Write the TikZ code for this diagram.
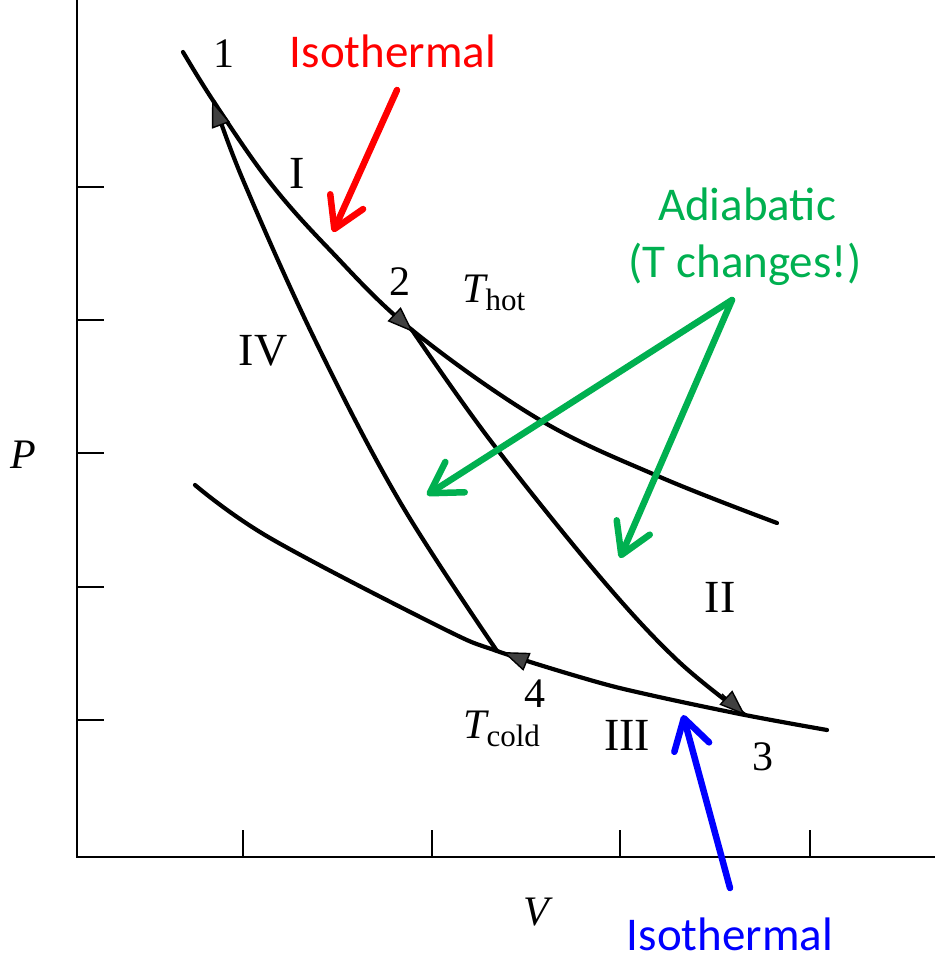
\documentclass[tikz,border=0pt]{standalone}
\usepackage{fontspec}
\setmainfont{Liberation Serif}
\newfontfamily\calibri{Carlito}
\usetikzlibrary{arrows.meta}
\definecolor{annred}{RGB}{255,0,0}
\definecolor{anngreen}{RGB}{0,176,80}
\definecolor{annblue}{RGB}{0,0,255}
\begin{document}
\begin{tikzpicture}[x=1pt,y=-1pt,
  curve/.style={line width=4.2pt, line cap=round},
  axis/.style={line width=2.8pt},
  tickmark/.style={line width=2.6pt},
  cyc/.style={line width=1.4pt, -{Triangle[length=26pt,width=19pt,fill=black!75]}},
  lbl/.style={font=\fontsize{42}{42}\selectfont, anchor=base, inner sep=0pt},
  roman/.style={font=\fontsize{46}{46}\selectfont, anchor=base, inner sep=0pt},
  note/.style={font=\calibri\fontsize{47}{47}\selectfont, anchor=base, inner sep=0pt},
  pointer/.style={line width=6.5pt, line cap=round, line join=round, -{Straight Barb[length=30pt,width=36pt,round]}}
]
\useasboundingbox (0,0) rectangle (935,961);
% axes
\coordinate (origin) at (77,857);
\coordinate (ytop) at (77,0);
\coordinate (xend) at (935,857);
\draw[axis] (ytop) -- (origin) -- (xend);
\foreach \y in {187,320,453,587,720} \draw[tickmark] (77,\y) -- (104,\y);
\foreach \x in {243,432,620,810} \draw[tickmark] (\x,857) -- (\x,830);
% cycle points
\coordinate (p1) at (214,102);
\coordinate (p2) at (412,330);
\coordinate (p3) at (745,715);
\coordinate (p4) at (497,651);
\coordinate (hs) at (183,52);
\coordinate (he) at (777,523);
\coordinate (cs) at (195,485);
\coordinate (ce) at (827,730);
% hot isotherm
\draw[curve] plot[smooth, tension=0.6] coordinates {(hs) (p1) (268,180) (328,248) (p2) (540,420) (660,477) (he)};
% cold isotherm
\draw[curve] plot[smooth, tension=0.6] coordinates {(cs) (270,538) (440,627) (p4) (590,680) (650,695) (p3) (ce)};
% adiabats
\draw[curve] plot[smooth, tension=0.6] coordinates {(p1) (243,180) (315,340) (400,502) (p4)};
\draw[curve] plot[smooth, tension=0.6] coordinates {(p2) (490,440) (600,577) (677,660) (p3)};
% direction arrows
\draw[cyc] (222,128) -- (212,101);
\draw[cyc] (395,315) -- (413,332);
\draw[cyc] (722,694) -- (745,715);
\draw[cyc] (525,661) -- (503,652);
% labels
\node[lbl] (n1) at (224,67) {1};
\node[lbl] (n2) at (400,295) {2};
\node[lbl] (n3) at (763,770) {3};
\node[lbl] (n4) at (535,707) {4};
\node[roman] (rI) at (297,188) {I};
\node[roman] (rII) at (720,612) {II};
\node[roman] (rIII) at (627,750) {III};
\node[roman] (rIV) at (263,365) {IV};
\node[lbl, anchor=base west] (thot) at (462,302) {\itshape T\raisebox{-8pt}{\fontsize{31}{31}\selectfont\upshape hot}};
\node[lbl, anchor=base west] (tcold) at (463,738) {\itshape T\raisebox{-8pt}{\fontsize{31}{31}\selectfont\upshape cold}};
\node[lbl] (lp) at (23,468) {\itshape P};
\node[lbl] (lv) at (536,925) {\itshape V};
% annotations
\node[note, text=annred] (isoR) at (393,67) {Isothermal};
\node[note, text=anngreen] (adA) at (747,220) {Adiabatic};
\node[note, text=anngreen] (adB) at (745,277) {(T changes!)};
\node[note, text=annblue] (isoB) at (730,950) {Isothermal};
\coordinate (rs) at (397,90);
\coordinate (rt) at (333,232);
\coordinate (gs) at (732,300);
\coordinate (gt1) at (427,495);
\coordinate (gt2) at (620,558);
\coordinate (bs) at (730,888);
\coordinate (bt) at (683,715);
\draw[pointer, annred] (rs) -- (rt);
\draw[pointer, anngreen] (gs) -- (gt1);
\draw[pointer, anngreen] (gs) -- (gt2);
\draw[pointer, annblue] (bs) -- (bt);
\end{tikzpicture}
\end{document}
